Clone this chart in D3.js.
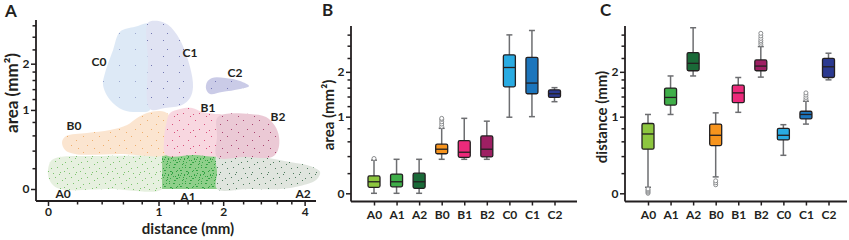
<!DOCTYPE html>
<html>
<head>
<meta charset="utf-8">
<script src="https://cdn.jsdelivr.net/npm/d3@7"></script>
<style>
  body { margin: 0; background: #fff; }
  text { font-family: Lato, "Open Sans", sans-serif; font-weight: 700; fill: #231f20; }
</style>
</head>
<body>
<svg id="fig" width="849" height="240"></svg>
<script>
// ── Data ────────────────────────────────────────────────────────────────────
const CATS = ['A0', 'A1', 'A2', 'B0', 'B1', 'B2', 'C0', 'C1', 'C2'];

// panel B: area (mm²) box stats per category
const areaLo  = [0,    0,    0,     0.36, 0.36,  0.36, 0.99, 1.00, 1.29];
const areaQ1  = [0.056,0.06, 0.046, 0.43, 0.385, 0.39, 1.62, 1.46, 1.38];
const areaMed = [0.11, 0.11, 0.11,  0.49, 0.45,  0.49, 2.12, 1.71, 1.46];
const areaQ3  = [0.17, 0.19, 0.20,  0.56, 0.61,  0.68, 2.50, 2.42, 1.55];
const areaHi  = [0.35, 0.36, 0.36,  0.80, 0.97,  0.92, 3.19, 3.36, 1.60];
const areaOut = [[0.37], [], [], [0.83, 0.87, 0.91, 0.95, 0.97], [], [], [], [], []];

// panel C: distance (mm) box stats per category
const distLo  = [0.056, 1.04, 1.89, 0.16, 1.08, 1.86, 0.41, 0.87, 1.79];
const distQ1  = [0.49,  1.22, 2.03, 0.54, 1.27, 2.03, 0.62, 0.96, 1.85];
const distMed = [0.71,  1.38, 2.24, 0.69, 1.48, 2.16, 0.69, 1.04, 2.14];
const distQ3  = [0.88,  1.59, 2.57, 0.87, 1.66, 2.34, 0.80, 1.10, 2.39];
const distHi  = [1.04,  1.89, 3.47, 1.07, 1.85, 2.77, 0.86, 1.30, 2.55];
const distOut = [[0, 0.01, 0.02, 0.03, 0.04], [], [], [0.08, 0.10, 0.12], [], [2.85, 2.92, 2.98, 3.06, 3.15, 3.25], [], [1.34, 1.38, 1.43, 1.48], []];

// panel A: region outlines in (distance mm, area mm²)
const shapeA0 = [[0.006,0.234],[0.025,0.29],[0.078,0.324],[0.386,0.336],[0.75,0.342],[1.045,0.348],[1.045,0.161],[1.045,0],[0.476,0],[0.078,0],[0.025,0.045],[0,0.131]];
const shapeA1 = [[1.045,0.348],[1.887,0.348],[1.887,0],[1.045,0]];
const shapeA2 = [[1.887,0.348],[2.781,0.324],[3.563,0.267],[4.172,0.224],[4.508,0.161],[4.372,0.082],[3.858,0.027],[3.286,0],[2.5,0],[1.887,0],[1.887,0.161]];
const shapeB0 = [[0.092,0.51],[0.12,0.592],[0.277,0.635],[0.476,0.678],[0.642,0.754],[0.748,0.865],[0.861,0.948],[1.019,0.982],[1.123,0.931],[1.163,0.754],[1.15,0.371],[0.571,0.359],[0.185,0.359],[0.113,0.408]];
const shapeB1 = [[1.096,0.754],[1.15,0.948],[1.289,1.018],[1.468,1.035],[1.628,0.965],[1.851,0.931],[1.979,0.914],[1.979,0.592],[1.979,0.348],[1.5,0.348],[1.096,0.348],[1.07,0.537]];
const shapeB2 = [[1.887,0.865],[2.036,0.931],[2.55,0.931],[2.926,0.881],[3.153,0.738],[3.259,0.578],[3.232,0.408],[3.076,0.324],[2.44,0.324],[1.887,0.324],[1.887,0.592]];
const shapeC0 = [[0.884,3.253],[0.896,2.1],[0.896,1.0],[0.759,0.965],[0.601,1.0],[0.476,1.184],[0.412,1.491],[0.43,1.767],[0.504,2.386],[0.571,2.965],[0.726,3.143]];
const shapeC1 = [[0.872,3.291],[0.981,3.367],[1.123,3.216],[1.289,2.696],[1.437,1.917],[1.483,1.447],[1.437,1.222],[1.318,1.09],[1.083,1.035],[0.896,1.018],[0.872,2.1]];
const shapeC2 = [[1.712,1.557],[1.798,1.648],[2.036,1.648],[2.335,1.58],[2.528,1.469],[2.335,1.405],[1.979,1.342],[1.763,1.302],[1.695,1.405]];
const REGION_SHAPES = [shapeA0, shapeA1, shapeA2, shapeB0, shapeB1, shapeB2, shapeC0, shapeC1, shapeC2];
// label anchor of each region, same units
const labelDist = [0.099, 1.406, 3.951, 0.177, 1.728, 3.232, 0.377, 1.437, 2.232];
const labelArea = [-0.043, -0.068, -0.043, 0.738, 1.035, 0.881, 2.047, 2.298, 1.767];

// ticks
const xMajorA = [0, 1, 2, 4];
const xMinorA = [0.2, 0.4, 0.6, 0.8, 1.2, 1.4, 1.6, 1.8, 2.4, 2.8, 3.2, 3.6];
const yMajor  = [0, 1, 2];
const yMinor  = [0.2, 0.4, 0.6, 0.8, 1.2, 1.4, 1.6, 1.8, 2.4, 2.8, 3.2];

// ── Styles ──────────────────────────────────────────────────────────────────
const BOX_COLOR = {
    A0: '#8dc63f', A1: '#3fae49', A2: '#1a6a38',
    B0: '#f7941d', B1: '#ec2a7b', B2: '#9e1f63',
    C0: '#29abe2', C1: '#1c75bc', C2: '#2b3990'
};
const REGION_STYLE = {
    A0: { bg: '#e6f0df', dot: '#7cc46e', n: 9 },
    A1: { bg: '#8fcf8a', dot: '#2e9f3f', n: 16 },
    A2: { bg: '#e0e5de', dot: '#4d7a5c', n: 8 },
    B0: { bg: '#fbe5d0', dot: '#eeae6c', n: 4 },
    B1: { bg: '#f8d7e0', dot: '#d8507c', n: 5 },
    B2: { bg: '#ebc9d5', dot: '#a8436f', n: 4 },
    C0: { bg: '#dde9f6', dot: '#9ba7cf', n: 1 },
    C1: { bg: '#e0e3f3', dot: '#7378b2', n: 2 },
    C2: { bg: '#cacbe7', dot: '#7476b4', n: 2 }
};
// fixed speckle layout inside a 16px tile (texture only)
const SPECKLE = [[7,1],[3,8],[12,12],[14,4],[1,2],[9,7],[5,13],[11,14],[0,11],[15,0],[6,4],[2,15],[10,11],[13,7],[4,10],[8,15]];

const svg = d3.select('#fig');
const defs = svg.append('defs');

CATS.forEach(k => {
    const s = REGION_STYLE[k];
    const p = defs.append('pattern').attr('id', 'pat-' + k)
        .attr('patternUnits', 'userSpaceOnUse').attr('width', 16).attr('height', 16);
    p.append('rect').attr('width', 16).attr('height', 16).attr('fill', s.bg);
    SPECKLE.slice(0, s.n).forEach(([px, py]) => {
        p.append('rect').attr('x', px).attr('y', py).attr('width', 1).attr('height', 1)
            .attr('fill', s.dot);
    });
    if (k === 'A1') {
        SPECKLE.forEach(([px, py]) => {
            p.append('rect').attr('x', (px + 8) % 16).attr('y', (py + 3) % 16)
                .attr('width', 1).attr('height', 1).attr('fill', '#3aa84a');
        });
    }
});

const AXIS_W = 1.8;

function styleAxis(sel) {
    sel.select('.domain').remove();
    sel.selectAll('.tick line').attr('stroke', '#231f20').attr('stroke-width', 1.5);
    sel.selectAll('.tick text').attr('font-size', '12px')
        .attr('font-family', 'Lato, "Open Sans", sans-serif').attr('font-weight', 700).attr('fill', '#231f20');
}

function panelTitle(x, y, s) {
    svg.append('text').attr('x', x).attr('y', y).attr('font-size', '17px').text(s);
}

function yTitle(cx, cy, s, size) {
    svg.append('text').attr('transform', `translate(${cx},${cy}) rotate(-90)`)
        .attr('text-anchor', 'middle').attr('dominant-baseline', 'central')
        .attr('font-size', size).text(s);
}

function yAxisLog(y, ax, top, bottom) {
    const g1 = svg.append('g').attr('transform', `translate(${ax},0)`)
        .call(d3.axisLeft(y).tickValues(yMajor).tickSize(5).tickPadding(1.5).tickFormat(d3.format('d')));
    styleAxis(g1);
    const g2 = svg.append('g').attr('transform', `translate(${ax},0)`)
        .call(d3.axisLeft(y).tickValues(yMinor).tickSize(3.5).tickFormat(''));
    styleAxis(g2);
    svg.append('line').attr('x1', ax).attr('x2', ax).attr('y1', top).attr('y2', bottom)
        .attr('stroke', '#231f20').attr('stroke-width', AXIS_W);
}

// ── Panel A ─────────────────────────────────────────────────────────────────
(function panelA() {
    const AX_X = 36, AX_Y = 201;
    const x = d3.scaleSymlog().constant(1).domain([0, 4.37]).range([48, 316]);
    const y = d3.scaleSymlog().constant(1).domain([0, 3.4]).range([189, 20]);

    const smooth = d3.line().x(d => x(d[0])).y(d => y(d[1]))
        .curve(d3.curveCatmullRomClosed.alpha(0.5));
    const straight = d3.line().x(d => x(d[0])).y(d => y(d[1])).curve(d3.curveLinearClosed);

    const g = svg.append('g');
    CATS.forEach((k, i) => {
        g.append('path')
            .attr('d', (k === 'A1' ? straight : smooth)(REGION_SHAPES[i]))
            .attr('fill', `url(#pat-${k})`);
    });

    CATS.forEach((k, i) => {
        g.append('text').attr('x', x(labelDist[i])).attr('y', y(labelArea[i]))
            .attr('text-anchor', 'middle').attr('dominant-baseline', 'central')
            .attr('font-size', '12px').text(k);
    });

    yAxisLog(y, AX_X, 20, AX_Y);

    const gx1 = svg.append('g').attr('transform', `translate(0,${AX_Y})`)
        .call(d3.axisBottom(x).tickValues(xMajorA).tickSize(5).tickPadding(1).tickFormat(d3.format('d')));
    styleAxis(gx1);
    const gx2 = svg.append('g').attr('transform', `translate(0,${AX_Y})`)
        .call(d3.axisBottom(x).tickValues(xMinorA).tickSize(3.5).tickFormat(''));
    styleAxis(gx2);
    svg.append('line').attr('x1', AX_X).attr('x2', 316).attr('y1', AX_Y).attr('y2', AX_Y)
        .attr('stroke', '#231f20').attr('stroke-width', AXIS_W);

    panelTitle(5, 17, 'A');
    yTitle(11, 93, 'area (mm²)', '17px');
    svg.append('text').attr('x', 188).attr('y', 234).attr('text-anchor', 'middle')
        .attr('font-size', '15px').text('distance (mm)');
})();

// ── Box panels ──────────────────────────────────────────────────────────────
function boxPanel(opts) {
    const { axX, right, lo, q1, med, q3, hi, out } = opts;
    const AX_Y = 201.5;
    const x = d3.scalePoint().domain(CATS).range([axX + 23, axX + 203.5]);
    const y = d3.scaleSymlog().constant(1).domain([0, 3.5]).range([193.3, 27]);
    const BW = 12, CAP = 6;

    const g = svg.append('g');
    CATS.forEach((k, i) => {
        const cx = x(k);
        // whiskers
        g.append('line').attr('x1', cx).attr('x2', cx).attr('y1', y(lo[i])).attr('y2', y(hi[i]))
            .attr('stroke', '#6d6e71').attr('stroke-width', 1.5);
        [lo[i], hi[i]].forEach(v => {
            g.append('line').attr('x1', cx - CAP / 2).attr('x2', cx + CAP / 2)
                .attr('y1', y(v)).attr('y2', y(v))
                .attr('stroke', '#6d6e71').attr('stroke-width', 1.5);
        });
        // outliers
        out[i].forEach(v => {
            g.append('circle').attr('cx', cx).attr('cy', y(v)).attr('r', 2)
                .attr('fill', '#fff').attr('stroke', '#808285').attr('stroke-width', 0.9);
        });
        // box
        g.append('rect').attr('x', cx - BW / 2).attr('y', y(q3[i]))
            .attr('width', BW).attr('height', y(q1[i]) - y(q3[i]))
            .attr('rx', 1.5)
            .attr('fill', BOX_COLOR[k]).attr('stroke', '#231f20').attr('stroke-width', 1.3);
        g.append('line').attr('x1', cx - BW / 2).attr('x2', cx + BW / 2)
            .attr('y1', y(med[i])).attr('y2', y(med[i]))
            .attr('stroke', '#231f20').attr('stroke-width', 1.3);
    });

    yAxisLog(y, axX, 26, AX_Y);

    const gx = svg.append('g').attr('transform', `translate(0,${AX_Y})`)
        .call(d3.axisBottom(x).tickSize(4).tickPadding(5));
    styleAxis(gx);
    svg.append('line').attr('x1', axX).attr('x2', right).attr('y1', AX_Y).attr('y2', AX_Y)
        .attr('stroke', '#231f20').attr('stroke-width', AXIS_W);
}

boxPanel({ axX: 351, right: 577, lo: areaLo, q1: areaQ1, med: areaMed, q3: areaQ3, hi: areaHi, out: areaOut });
panelTitle(322, 16, 'B');
yTitle(328, 115, 'area (mm²)', '15px');

boxPanel({ axX: 625, right: 847, lo: distLo, q1: distQ1, med: distMed, q3: distQ3, hi: distHi, out: distOut });
panelTitle(600, 16, 'C');
yTitle(601, 117, 'distance (mm)', '15px');
</script>
</body>
</html>
